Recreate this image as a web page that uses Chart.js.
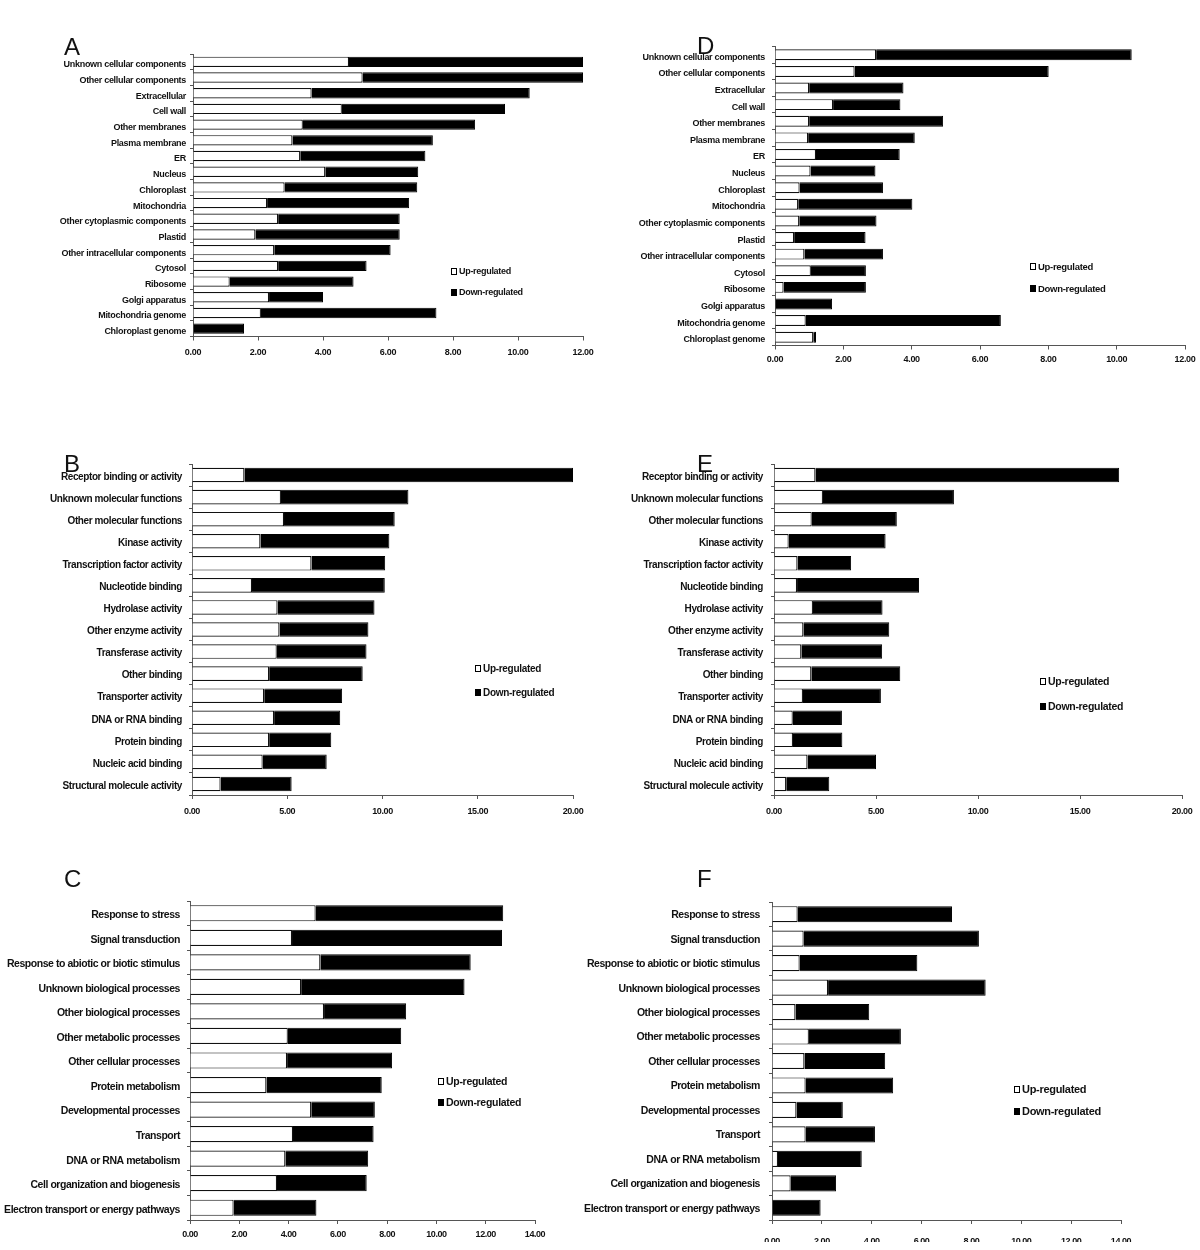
<!DOCTYPE html>
<html><head><meta charset="utf-8">
<script src="https://cdn.jsdelivr.net/npm/chart.js@4.4.1/dist/chart.umd.min.js"></script>
<style>
html,body{margin:0;padding:0;background:#fff;}
#wrap{position:relative;width:1200px;height:1250px;overflow:hidden;background:#fff;}
#wrap canvas{position:absolute;left:0;top:0;}
.letter{position:absolute;font-family:"Liberation Sans",Arial,sans-serif;font-size:24px;line-height:24px;color:#111;}
.leg{position:absolute;font-family:"Liberation Sans",Arial,sans-serif;font-weight:bold;color:#111;white-space:nowrap;display:flex;align-items:center;height:12px;letter-spacing:-0.3px;}
.leg .box{display:inline-block;width:6px;height:7px;border:1px solid #000;margin-right:2px;box-sizing:border-box;}
</style></head><body><div id="wrap"></div>
<script>
// ---------- data ----------
const legendLabels = ['Up-regulated', 'Down-regulated'];
const panelLetters = ['A', 'B', 'C', 'D', 'E', 'F'];

const ticks12 = ['0.00','2.00','4.00','6.00','8.00','10.00','12.00'];
const ticks20 = ['0.00','5.00','10.00','15.00','20.00'];
const ticks14 = ['0.00','2.00','4.00','6.00','8.00','10.00','12.00','14.00'];

const catsCC = ['Unknown cellular components','Other cellular components','Extracellular','Cell wall','Other membranes','Plasma membrane','ER','Nucleus','Chloroplast','Mitochondria','Other cytoplasmic components','Plastid','Other intracellular components','Cytosol','Ribosome','Golgi apparatus','Mitochondria genome','Chloroplast genome'];
const upA   = [4.80,5.22,3.65,4.58,3.38,3.06,3.30,4.07,2.82,2.28,2.62,1.92,2.50,2.62,1.13,2.34,2.09,0];
const downA = [7.20,6.78,6.71,5.02,5.30,4.32,3.85,2.86,4.08,4.37,3.74,4.44,3.58,2.72,3.81,1.66,5.40,1.57];
const upD   = [2.96,2.33,1.00,1.70,1.00,0.97,1.20,1.04,0.72,0.68,0.71,0.56,0.86,1.05,0.25,0,0.90,1.12];
const downD = [7.48,5.68,2.76,1.97,3.92,3.12,2.45,1.90,2.44,3.34,2.26,2.09,2.30,1.61,2.41,1.67,5.71,0.08];

const catsMF = ['Receptor binding or activity','Unknown molecular functions','Other molecular functions','Kinase activity','Transcription factor activity','Nucleotide binding','Hydrolase activity','Other enzyme activity','Transferase activity','Other binding','Transporter activity','DNA or RNA binding','Protein binding','Nucleic acid binding','Structural molecule activity'];
const upB   = [2.75,4.67,4.83,3.59,6.27,3.15,4.49,4.59,4.45,4.05,3.79,4.31,4.05,3.71,1.50];
const downB = [17.25,6.69,5.81,6.77,3.87,6.97,5.09,4.67,4.71,4.91,4.09,3.47,3.26,3.36,3.73];
const upE   = [2.03,2.40,1.85,0.72,1.15,1.13,1.91,1.44,1.34,1.83,1.42,0.92,0.93,1.64,0.60];
const downE = [14.89,6.42,4.17,4.75,2.63,5.98,3.41,4.21,3.96,4.36,3.82,2.41,2.42,3.36,2.11];

const catsBP = ['Response to stress','Signal transduction','Response to abiotic or biotic stimulus','Unknown biological processes','Other biological processes','Other metabolic processes','Other cellular processes','Protein metabolism','Developmental processes','Transport','DNA or RNA metabolism','Cell organization and biogenesis','Electron transport or energy pathways'];
const upC   = [5.10,4.14,5.29,4.51,5.44,3.97,3.94,3.10,4.92,4.18,3.87,3.53,1.77];
const downC = [7.61,8.52,6.10,6.63,3.33,4.60,4.26,4.68,2.58,3.27,3.36,3.64,3.36];
const upF   = [1.03,1.27,1.11,2.25,0.94,1.48,1.30,1.35,0.98,1.35,0.24,0.75,0];
const downF = [6.19,7.03,4.72,6.32,2.96,3.69,3.24,3.51,1.86,2.78,3.36,1.82,1.95];

// ---------- layout ----------
const FONT = '"Liberation Sans", Arial, Helvetica, sans-serif';
const XH = 40;
const panels = [
  {letter:panelLetters[0], cats:catsCC, up:upA, down:downA, ticks:ticks12, max:12, step:2,
   L:193, R:583, T:54, B:336.5, lf:9, ls:-0.3, ypad:4, xpad:7, lo:3, clipB:0,
   lx:64, ly:35, legX:451, legY:271, legY2:292, legF:9},
  {letter:panelLetters[1], cats:catsMF, up:upB, down:downB, ticks:ticks20, max:20, step:5,
   L:192, R:573, T:464, B:795, lf:10, ls:-0.4, ypad:7, xpad:7, lo:2, clipB:0,
   lx:64, ly:452, legX:475, legY:668, legY2:692, legF:10},
  {letter:panelLetters[2], cats:catsBP, up:upC, down:downC, ticks:ticks14, max:14, step:2,
   L:190, R:535, T:901, B:1220, lf:10.5, ls:-0.45, ypad:7, xpad:5, lo:2, clipB:0,
   lx:64, ly:867, legX:438, legY:1081, legY2:1102, legF:10.5},
  {letter:panelLetters[3], cats:catsCC, up:upD, down:downD, ticks:ticks12, max:12, step:2,
   L:775, R:1185, T:46.5, B:345.5, lf:9, ls:-0.3, ypad:7, xpad:5, lo:2.5, clipB:0,
   lx:697, ly:34, legX:1030, legY:266, legY2:288, legF:9.5},
  {letter:panelLetters[4], cats:catsMF, up:upE, down:downE, ticks:ticks20, max:20, step:5,
   L:774, R:1182, T:464, B:795, lf:10, ls:-0.4, ypad:8, xpad:7, lo:2, clipB:0,
   lx:697, ly:452, legX:1040, legY:681, legY2:706, legF:10.5},
  {letter:panelLetters[5], cats:catsBP, up:upF, down:downF, ticks:ticks14, max:14, step:2,
   L:772, R:1121, T:902, B:1220, lf:10.5, ls:-0.45, ypad:9, xpad:12, lo:1, clipB:8,
   lx:697, ly:867, legX:1014, legY:1089, legY2:1111, legF:11}
];
const H = 1250;
const wrap = document.getElementById('wrap');

function addLegend(p) {
  const rows = [[legendLabels[0], p.legY, '#fff'], [legendLabels[1], p.legY2, '#000']];
  rows.forEach(([txt, y, fill]) => {
    const d = document.createElement('div');
    d.className = 'leg';
    d.style.left = p.legX + 'px';
    d.style.top = (y - 6) + 'px';
    d.style.fontSize = p.legF + 'px';
    const b = document.createElement('span');
    b.className = 'box';
    b.style.background = fill;
    const t = document.createElement('span');
    t.textContent = txt;
    d.appendChild(b); d.appendChild(t);
    wrap.appendChild(d);
  });
  const l = document.createElement('div');
  l.className = 'letter';
  l.style.left = p.lx + 'px';
  l.style.top = p.ly + 'px';
  l.textContent = p.letter;
  wrap.appendChild(l);
}

function makeChart(p) {
  const c = document.createElement('canvas');
  c.width = 1200; c.height = H;
  c.style.width = '1200px'; c.style.height = H + 'px';
  if (p.clipB) c.style.clipPath = 'inset(0 0 ' + p.clipB + 'px 0)';
  wrap.appendChild(c);
  new Chart(c, {
    type: 'bar',
    data: {
      labels: p.cats,
      datasets: [
        {label: legendLabels[0], data: p.up, backgroundColor: '#ffffff', borderColor: '#111', borderWidth: 1.2},
        {label: legendLabels[1], data: p.down, backgroundColor: '#000000', borderColor: '#000', borderWidth: 1}
      ]
    },
    options: {
      indexAxis: 'y',
      responsive: false,
      animation: false,
      devicePixelRatio: 1,
      datasets: {bar: {barPercentage: 0.66, categoryPercentage: 1}},
      layout: {padding: {left: 0, top: p.T, right: 1200 - p.R, bottom: H - p.B - XH}},
      plugins: {legend: {display: false}, tooltip: {enabled: false}, title: {display: false}},
      scales: {
        x: {
          type: 'linear', stacked: true, min: 0, max: p.max,
          ticks: {stepSize: p.step, autoSkip: false, maxRotation: 0, padding: p.xpad,
                  font: {family: FONT, size: 9, weight: 'bold'}, color: '#111',
                  callback: (v, i) => p.ticks[i]},
          grid: {drawOnChartArea: false, drawTicks: true, tickLength: 4, color: '#555'},
          border: {display: true, color: '#555', width: 1},
          afterFit: s => { s.height = XH; s.paddingLeft = 0; s.paddingRight = 0; }
        },
        y: {
          stacked: true,
          ticks: {autoSkip: false, padding: p.ypad, labelOffset: p.lo,
                  font: {family: FONT, size: p.lf, weight: 'bold'}, color: '#111'},
          grid: {drawOnChartArea: false, drawTicks: true, tickLength: 3, color: '#555'},
          border: {display: true, color: '#555', width: 1},
          afterFit: s => { s.width = p.L; s.paddingTop = 0; s.paddingBottom = 0; }
        }
      }
    },
    plugins: [{id: 'tracking', beforeDraw(ch) { ch.ctx.letterSpacing = p.ls + 'px'; }}]
  });
}

panels.forEach(p => { makeChart(p); addLegend(p); });
</script></body></html>
